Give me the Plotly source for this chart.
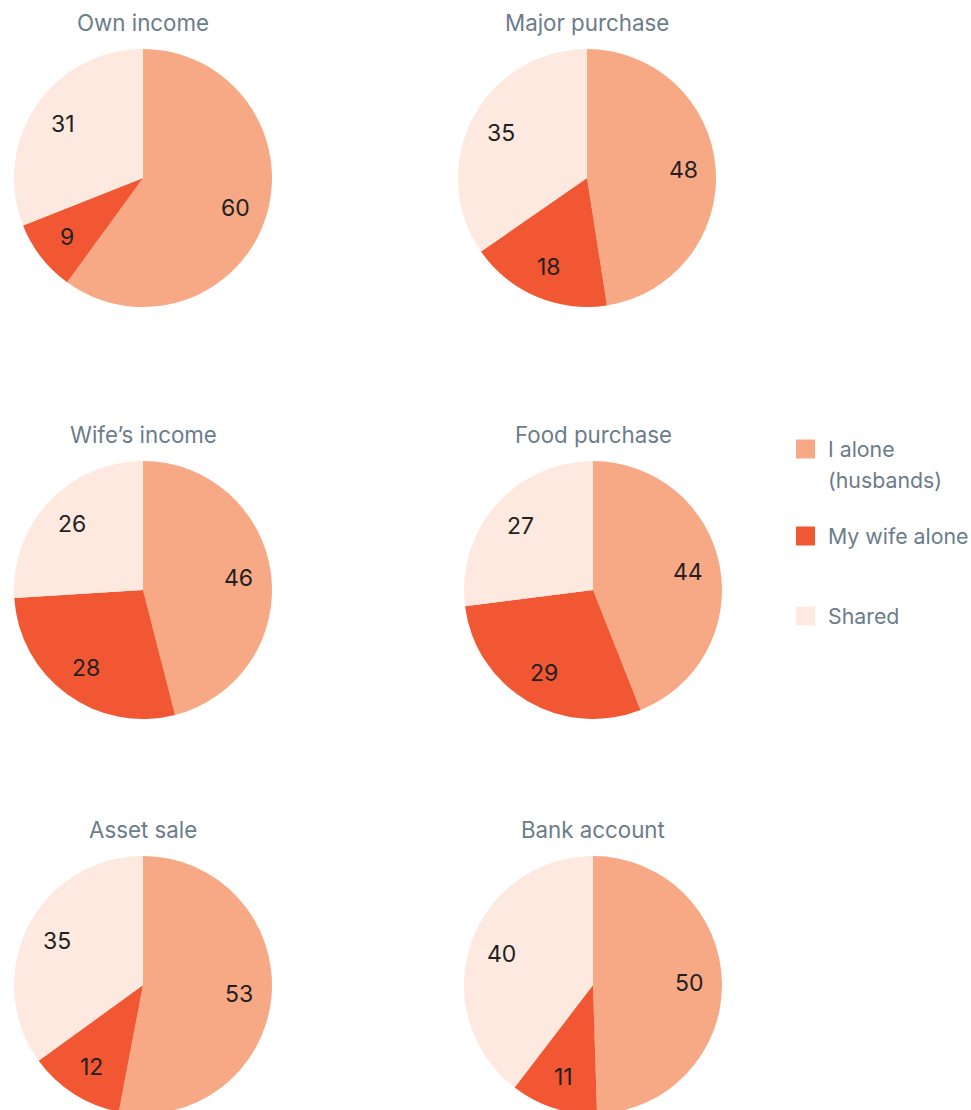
import math
import plotly.graph_objects as go

W, H = 971, 1118

categories = ["I alone (husbands)", "My wife alone", "Shared"]
legend_lines = [["I alone", "(husbands)"], ["My wife alone"], ["Shared"]]
titles = ["Own income", "Major purchase", "Wife’s income", "Food purchase", "Asset sale", "Bank account"]
i_alone = [60, 48, 46, 44, 53, 50]
wife_alone = [9, 18, 28, 29, 12, 11]
shared = [31, 35, 26, 27, 35, 40]

colors = ["#F7A986", "#F05732", "#FDE9E0"]
grey = "#6B7C8A"
font_family = "Inter, Roboto, sans-serif"

# pie centres and radius in pixels (layout)
centres = [(143, 178), (587, 178), (143, 590), (593, 590), (143, 985), (593, 985)]
R = 129
LABEL_R = 0.75 * R


def px(x):
    return x / W


def py(y):
    return 1 - y / H


fig = go.Figure()
for k, (cx, cy) in enumerate(centres):
    vals = [i_alone[k], wife_alone[k], shared[k]]
    fig.add_trace(go.Pie(
        labels=categories,
        values=vals,
        sort=False,
        direction="clockwise",
        rotation=0,
        marker=dict(colors=colors, line=dict(width=0)),
        textinfo="none",
        domain=dict(x=[px(cx - R), px(cx + R)], y=[py(cy + R), py(cy - R)]),
        showlegend=False,
        hoverinfo="label+value",
    ))
    fig.add_annotation(x=px(cx), y=py(cy - R - 27), xref="paper", yref="paper",
                       text=titles[k], showarrow=False, xanchor="center", yanchor="middle",
                       font=dict(size=22.3, color=grey, family=font_family))
    # value labels placed along each slice's mid-angle
    total = sum(vals)
    cum = 0
    for v in vals:
        mid = (cum + v / 2) / total * 2 * math.pi
        cum += v
        lx = cx + LABEL_R * math.sin(mid)
        ly = cy - LABEL_R * math.cos(mid)
        fig.add_annotation(x=px(lx), y=py(ly), xref="paper", yref="paper",
                           text=str(v), showarrow=False, xanchor="center", yanchor="middle",
                           font=dict(size=23, color="#231F20", family=font_family))

# legend
leg_y = [449, 536, 616]
for j, lines in enumerate(legend_lines):
    y0 = leg_y[j]
    fig.add_shape(type="rect", xref="paper", yref="paper",
                  x0=px(796), x1=px(815), y0=py(y0 + 9.5), y1=py(y0 - 9.5),
                  fillcolor=colors[j], line=dict(width=0))
    for li, line in enumerate(lines):
        fig.add_annotation(x=px(826), y=py(y0 + 31 * li), xref="paper", yref="paper",
                           text=line, showarrow=False, xanchor="left", yanchor="middle",
                           font=dict(size=21.3, color=grey, family=font_family))

fig.update_layout(
    width=W, height=H,
    margin=dict(l=0, r=0, t=0, b=0),
    paper_bgcolor="white", plot_bgcolor="white",
    showlegend=False,
)
fig.write_html("out.html", config={"displayModeBar": False},
               post_script="document.body.style.margin='0';document.body.style.overflow='hidden';")
